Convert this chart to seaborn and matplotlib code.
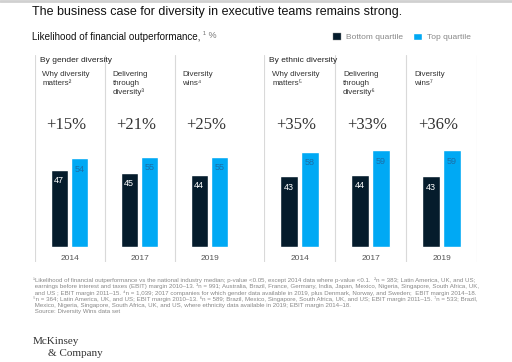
import seaborn as sns
import matplotlib.pyplot as plt
import pandas as pd
from matplotlib.patches import Patch
from matplotlib.lines import Line2D

# data
years = ["2014", "2017", "2019"]
quartiles = ["Bottom quartile", "Top quartile"]
gender_bottom = [47, 45, 44]
gender_top = [54, 55, 55]
ethnic_bottom = [43, 44, 43]
ethnic_top = [58, 59, 59]
gender_uplift = ["+15%", "+21%", "+25%"]
ethnic_uplift = ["+35%", "+33%", "+36%"]
gender_titles = ["Why diversity\nmatters²", "Delivering\nthrough\ndiversity³", "Diversity\nwins⁴"]
ethnic_titles = ["Why diversity\nmatters⁵", "Delivering\nthrough\ndiversity⁶", "Diversity\nwins⁷"]
group_names = ["By gender diversity", "By ethnic diversity"]

footnote = ("¹Likelihood of financial outperformance vs the national industry median; p-value <0.05, except 2014 data where p-value <0.1.  ²n = 383; Latin America, UK, and US;\n"
            " earnings before interest and taxes (EBIT) margin 2010–13. ³n = 991; Australia, Brazil, France, Germany, India, Japan, Mexico, Nigeria, Singapore, South Africa, UK,\n"
            " and US ; EBIT margin 2011–15. ⁴n = 1,039; 2017 companies for which gender data available in 2019, plus Denmark, Norway, and Sweden;  EBIT margin 2014–18.\n"
            "⁵n = 364; Latin America, UK, and US; EBIT margin 2010–13. ⁶n = 589; Brazil, Mexico, Singapore, South Africa, UK, and US; EBIT margin 2011–15. ⁷n = 533; Brazil,\n"
            " Mexico, Nigeria, Singapore, South Africa, UK, and US, where ethnicity data available in 2019; EBIT margin 2014–18.\n"
            " Source: Diversity Wins data set")

dark = "#051c2c"
blue = "#00a9f4"

sns.set_theme(style="white")
plt.rcParams['font.family'] = ['Liberation Sans', 'DejaVu Sans']

W, H = 512, 362
fig = plt.figure(figsize=(W / 100, H / 100), dpi=100)

def fx(px):
    return px / W

def fy(py):
    return 1 - py / H

# pixel -> data helper for y (baseline 247px, 1.64 px per unit)
def vy(py):
    return (247 - py) / 1.64

ax_pos = [(34.5, 210), (264, 213)]
groups = [(gender_bottom, gender_top, gender_uplift, gender_titles),
          (ethnic_bottom, ethnic_top, ethnic_uplift, ethnic_titles)]

for k, (bot, top, upl, titles) in enumerate(groups):
    left, width = ax_pos[k]
    ax = fig.add_axes([fx(left), fy(262), fx(width), (262 - 55) / H])
    df = pd.DataFrame({
        "year": years * 2,
        "quartile": [quartiles[0]] * 3 + [quartiles[1]] * 3,
        "value": bot + top,
    })
    sns.barplot(data=df, x="year", y="value", hue="quartile", hue_order=quartiles,
                palette=[dark, blue], width=0.586, gap=0.17, legend=False,
                saturation=1, ax=ax)
    ax.set_xlim(-0.5, 2.5)
    ax.set_ylim(vy(262), vy(55))
    ax.axis("off")
    ax.bar_label(ax.containers[0], padding=-11, color="white", fontsize=6.5)
    ax.bar_label(ax.containers[1], padding=-11, color="#1b6fa8", fontsize=6.5)

    nlines = 4 if k == 1 else 3
    for i in range(nlines):
        ax.axvline(i - 0.5, color="#d9d9d9", lw=0.8)

    for i in range(3):
        ax.text(i - 0.5 + 8 / 70, vy(71.5), titles[i], ha="left", va="top",
                fontsize=5.8, color="#333333", linespacing=1.3)
        ax.text(i - 0.05, vy(125), upl[i], ha="center", va="center",
                fontsize=12, family="Liberation Serif", color="#333333")
        ax.text(i, vy(258), years[i], ha="center", va="center",
                fontsize=6, color="#555555")

    ax.text(-0.5 + 5 / 70, vy(60), group_names[k], ha="left", va="center",
            fontsize=6, color="#222222", fontweight="medium")

fig.text(fx(32), fy(12), "The business case for diversity in executive teams remains strong.",
         ha="left", va="center", fontsize=9, color="#111111", fontweight="medium")
fig.text(fx(32), fy(37), "Likelihood of financial outperformance,", ha="left", va="center",
         fontsize=7.1, color="#111111", fontweight="medium")
fig.text(fx(203), fy(35.5), "¹ %", ha="left", va="center", fontsize=6.5, color="#777777")

handles = [Patch(facecolor=dark, edgecolor="#888888", lw=0.3), Patch(facecolor=blue)]
fig.legend(handles, quartiles, loc="center right", bbox_to_anchor=(fx(478), fy(37)),
           ncol=2, frameon=False, fontsize=6, labelcolor="#888888",
           handlelength=1.0, handleheight=1.0, handletextpad=0.6, columnspacing=1.2)

fig.text(fx(33), fy(277), footnote, ha="left", va="top", fontsize=4.4, color="#888888",
         linespacing=1.2)

fig.text(fx(33), fy(342), "McKinsey", ha="left", va="center", fontsize=8,
         family="Liberation Serif", color="#333333")
fig.text(fx(48), fy(353), "& Company", ha="left", va="center", fontsize=8,
         family="Liberation Serif", color="#333333")

fig.add_artist(Line2D([0, 1], [fy(1), fy(1)], color="#d0d0d0", lw=2))

fig.savefig("out.png", dpi=100)
